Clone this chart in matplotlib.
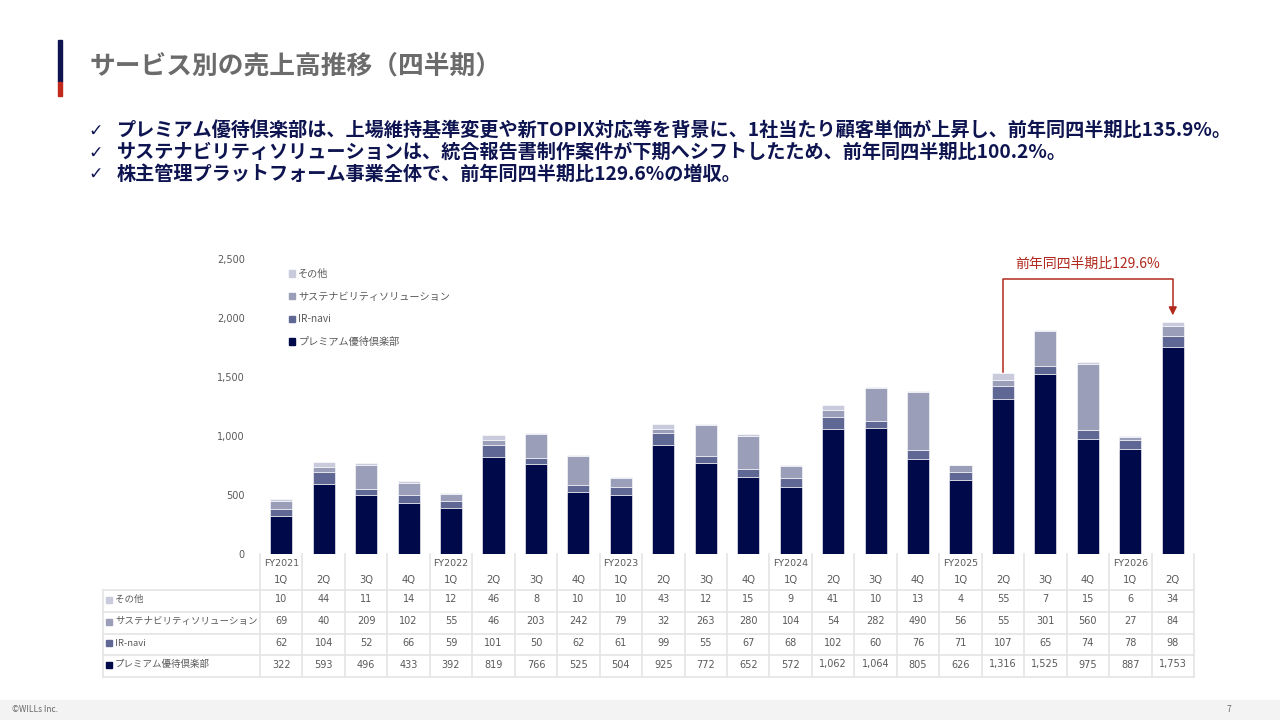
import numpy as np
import matplotlib
matplotlib.use("Agg")
import matplotlib.pyplot as plt
from matplotlib.patches import Rectangle, Patch

plt.rcParams['font.family'] = ['Noto Sans CJK JP', 'DejaVu Sans']

# data (百万円, quarterly)
fiscal_years = ["FY2021", "", "", "", "FY2022", "", "", "", "FY2023", "", "", "",
                "FY2024", "", "", "", "FY2025", "", "", "", "FY2026", ""]
quarters = ["1Q", "2Q", "3Q", "4Q"] * 5 + ["1Q", "2Q"]
premium = [322, 593, 496, 433, 392, 819, 766, 525, 504, 925, 772, 652,
           572, 1062, 1064, 805, 626, 1316, 1525, 975, 887, 1753]
ir_navi = [62, 104, 52, 66, 59, 101, 50, 62, 61, 99, 55, 67,
           68, 102, 60, 76, 71, 107, 65, 74, 78, 98]
sustain = [69, 40, 209, 102, 55, 46, 203, 242, 79, 32, 263, 280,
           104, 54, 282, 490, 56, 55, 301, 560, 27, 84]
other = [10, 44, 11, 14, 12, 46, 8, 10, 10, 43, 12, 15,
         9, 41, 10, 13, 4, 55, 7, 15, 6, 34]
series_names = ["プレミアム優待倶楽部", "IR-navi", "サステナビリティソリューション", "その他"]
series_colors = ["#000a4b", "#5f6895", "#9a9eb8", "#c9cbdc"]
y_ticks = [0, 500, 1000, 1500, 2000, 2500]
growth_label = "前年同四半期比129.6%"

title = "サービス別の売上高推移（四半期）"
bullets = [
    "プレミアム優待倶楽部は、上場維持基準変更や新TOPIX対応等を背景に、1社当たり顧客単価が上昇し、前年同四半期比135.9%。",
    "サステナビリティソリューションは、統合報告書制作案件が下期へシフトしたため、前年同四半期比100.2%。",
    "株主管理プラットフォーム事業全体で、前年同四半期比129.6%の増収。",
]

W, H = 1280, 720
fig = plt.figure(figsize=(12.8, 7.2), dpi=100)

# overlay in pixel coords for slide furniture and table
bg = fig.add_axes([0, 0, 1, 1])
bg.set_xlim(0, W)
bg.set_ylim(H, 0)
bg.axis("off")

# title bar
bg.add_patch(Rectangle((58, 40), 4, 42, color="#0d1450"))
bg.add_patch(Rectangle((58, 82), 4, 14, color="#c0291c"))
bg.text(90, 66, title, fontsize=18.5, fontweight="bold", color="#6b6b6b", va="center")

for i, b in enumerate(bullets):
    y = 131 + i * 21.5
    bg.text(88, y, "✓", fontsize=12.5, color="#0d1450", va="center", family="DejaVu Sans")
    bg.text(117, y, b, fontsize=13.8, fontweight="bold", color="#0d1450", va="center")

# footer
bg.add_patch(Rectangle((0, 700), W, 20, color="#f3f3f3"))
bg.text(12, 710, "©WILLs Inc.", fontsize=6, color="#666666", va="center")
bg.text(1227, 710, "7", fontsize=6, color="#666666", va="center")

# chart
x0, x1 = 260, 1194
ybot, ytop = 554, 259
ax = fig.add_axes([x0 / W, 1 - ybot / H, (x1 - x0) / W, (ybot - ytop) / H])
n = len(premium)
x = np.arange(n)
bottom = np.zeros(n)
for vals, col in zip([premium, ir_navi, sustain, other], series_colors):
    ax.bar(x, vals, width=0.52, bottom=bottom, color=col, edgecolor="white", linewidth=0.4)
    bottom += np.array(vals)
ax.set_xlim(-0.5, n - 0.5)
ax.set_ylim(0, 2500)
ax.set_yticks(y_ticks)
ax.set_yticklabels([f"{v:,}" for v in y_ticks], family="DejaVu Sans")
ax.tick_params(axis="y", length=0, pad=11, labelsize=7, labelcolor="#595959")
ax.set_xticks([])
for s in ax.spines.values():
    s.set_visible(False)
ax.patch.set_alpha(0)

handles = [Patch(color=c, label=l) for l, c in zip(series_names, series_colors)][::-1]
leg = ax.legend(handles=handles, loc="upper left", bbox_to_anchor=(0.027, 0.98),
                frameon=False, fontsize=7.3, handlelength=0.6, handleheight=0.6,
                handletextpad=0.3, labelspacing=1.25, borderaxespad=0)
for t in leg.get_texts():
    t.set_color("#595959")

# growth annotation
red = "#b0291c"
i0, i1 = 17, 21
ann_top = 2330
ax.plot([i0, i0, i1, i1], [bottom[i0] + 10, ann_top, ann_top, bottom[i1] + 120],
        color=red, lw=1.1, clip_on=False)
ax.annotate("", xy=(i1, bottom[i1] + 30), xytext=(i1, bottom[i1] + 130),
            arrowprops=dict(arrowstyle="-|>", color=red, lw=1.1, mutation_scale=12))
ax.text((i0 + i1) / 2, 2460, growth_label, color=red, fontsize=10, ha="center", va="center")

# data table
cw = (x1 - x0) / n
grid = "#e4e4e4"
rows_y = [590, 612, 634, 655, 677]
tcol = "#595959"
num_font = "DejaVu Sans"
for i in range(n + 1):
    xx = x0 + i * cw
    bg.plot([xx, xx], [ybot, rows_y[-1]], color=grid, lw=1.2)
for yy in rows_y:
    bg.plot([103, x1], [yy, yy], color=grid, lw=1.2)
bg.plot([103, 103], [rows_y[0], rows_y[-1]], color=grid, lw=1.2)
for i in range(n):
    cx = x0 + (i + 0.5) * cw
    if fiscal_years[i]:
        bg.text(cx, 563, fiscal_years[i], fontsize=6.8, color=tcol, ha="center", va="center", family=num_font)
    bg.text(cx, 580, quarters[i], fontsize=7.2, color=tcol, ha="center", va="center", family=num_font)
table_rows = [(series_names[3], other, series_colors[3]),
              (series_names[2], sustain, series_colors[2]),
              (series_names[1], ir_navi, series_colors[1]),
              (series_names[0], premium, series_colors[0])]
for r, (name, vals, col) in enumerate(table_rows):
    cy = (rows_y[r] + rows_y[r + 1]) / 2 - 1.5
    bg.add_patch(Rectangle((106, cy - 3), 6, 6, color=col))
    bg.text(115, cy, name, fontsize=6.8, color=tcol, va="center")
    for i, v in enumerate(vals):
        bg.text(x0 + (i + 0.5) * cw, cy, f"{v:,}", fontsize=7.0, color=tcol, ha="center", va="center", family=num_font)

fig.savefig("out.png", dpi=100)
